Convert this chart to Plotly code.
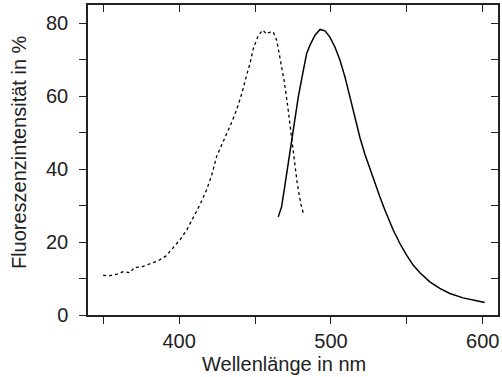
import plotly.graph_objects as go

# Excitation spectrum (dotted)
exc_nm = [350, 353.5, 359, 363.4, 367.8, 370.4, 375.4, 380.9, 386.4, 391.4, 396.3, 400.7,
          405, 409.4, 413.8, 418.2, 421.5, 424.8, 428.1, 431.4, 434.7, 438, 441.3, 444.5,
          446.7, 448.9, 452.2, 455.1, 457.7, 459.4, 462, 464.3, 466.4, 469.1, 471.3, 473.5,
          475.7, 477.8, 480.1, 481.8]
exc_val = [10.9, 10.7, 11.2, 11.9, 11.6, 13.0, 13.2, 14.0, 14.9, 16.2, 18.5, 20.7,
           23.3, 26.7, 30.3, 34.4, 38.4, 43.6, 46.6, 49.6, 52.9, 56.4, 60.7, 65.8,
           69.0, 73.1, 76.7, 78.1, 77.0, 77.5, 77.6, 75.3, 70.8, 64.4, 58.0, 50.7,
           43.4, 36.1, 30.6, 27.9]

# Emission spectrum (solid)
em_nm = [465.3, 467.5, 469.7, 471.9, 474.1, 476.3, 478.5, 481.8, 484.0, 486.2,
         489.5, 492.8, 496.1, 499.3, 502.6, 505.9, 509.2, 512.5, 515.8, 519.1,
         522.4, 525.7, 529.0, 532.2, 535.5, 538.4, 541.0, 545.4, 549.8, 554.1,
         558.6, 565.1, 571.7, 578.3, 587.0, 595.9, 601.3]
em_val = [26.9, 29.7, 35.6, 41.6, 47.9, 54.3, 59.8, 67.1, 71.7, 74.0,
          76.7, 78.3, 77.9, 76.2, 73.5, 69.9, 65.3, 59.8, 54.0, 48.6,
          44.0, 39.9, 36.1, 32.4, 28.8, 26.0, 23.3, 19.6, 16.4, 13.7,
          11.6, 9.1, 7.3, 5.9, 4.7, 3.9, 3.4]

x_title = "Wellenlänge in nm"
y_title = "Fluoreszenzintensität in %"
x_tickvals = [400, 500, 600]
y_tickvals = [0, 20, 40, 60, 80]

ink = "#222222"
fnt = dict(family="Liberation Sans, Arial, sans-serif", size=20, color=ink)

fig = go.Figure()
fig.add_trace(go.Scatter(x=exc_nm, y=exc_val, mode="lines",
                         line=dict(color="black", width=1.3, dash="dot"),
                         showlegend=False, hoverinfo="skip"))
fig.add_trace(go.Scatter(x=em_nm, y=em_val, mode="lines",
                         line=dict(color="black", width=1.5),
                         showlegend=False, hoverinfo="skip"))
fig.add_trace(go.Scatter(x=[None], y=[None], xaxis="x2", yaxis="y2",
                         showlegend=False, hoverinfo="skip"))

fig.update_layout(
    width=502, height=377,
    margin=dict(l=88, r=4, t=5, b=62),
    paper_bgcolor="white", plot_bgcolor="white",
    font=fnt,
    xaxis=dict(range=[340, 610], tickvals=x_tickvals, ticks="outside", ticklen=7,
               tickwidth=1.3, tickcolor=ink, showline=True, linecolor=ink, linewidth=1.5,
               mirror=True, showgrid=False, zeroline=False, automargin=False,
               minor=dict(tick0=350, dtick=50, ticks="outside", ticklen=7,
                          tickwidth=1.3, tickcolor=ink, showgrid=False),
               ticklabelstandoff=0),
    yaxis=dict(range=[0, 85], tickvals=y_tickvals, ticks="outside", ticklen=7,
               tickwidth=1.3, tickcolor=ink, showline=True, linecolor=ink, linewidth=1.5,
               mirror=True, showgrid=False, zeroline=False, automargin=False,
               minor=dict(tick0=0, dtick=10, ticks="outside", ticklen=7,
                          tickwidth=1.3, tickcolor=ink, showgrid=False),
               ticklabelstandoff=7),
    xaxis2=dict(range=[340, 610], overlaying="x", side="top", tick0=350, dtick=50,
                ticks="inside", ticklen=7, tickwidth=1.3, tickcolor=ink, automargin=False,
                showticklabels=False, showgrid=False, zeroline=False, showline=False),
    yaxis2=dict(range=[0, 85], overlaying="y", side="right", tick0=0, dtick=10,
                ticks="inside", ticklen=7, tickwidth=1.3, tickcolor=ink, automargin=False,
                showticklabels=False, showgrid=False, zeroline=False, showline=False),
    annotations=[
        dict(text=x_title, xref="paper", yref="paper", x=0.479, y=-0.158,
             xanchor="center", yanchor="middle", showarrow=False, font=fnt),
        dict(text=y_title, xref="paper", yref="paper", x=-0.1695, y=0.524,
             xanchor="center", yanchor="middle", textangle=-90, showarrow=False, font=fnt),
    ],
)

fig.write_html("out.html", config={"displayModeBar": False},
               post_script="document.body.style.margin='0';")
